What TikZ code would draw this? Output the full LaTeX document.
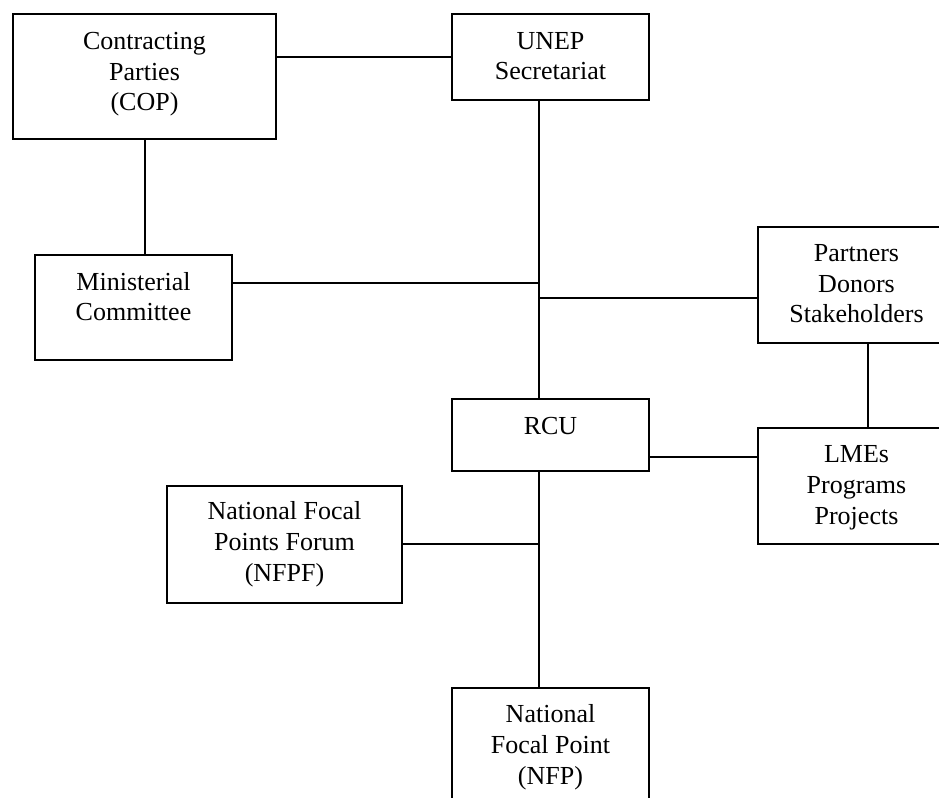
\documentclass[tikz,border=0pt]{standalone}
\usepackage{fontspec}
\setmainfont{Liberation Serif}
\begin{document}
\begin{tikzpicture}[x=0.75pt,y=-0.75pt,
  box/.style={draw,line width=1.5pt,rectangle,inner sep=0pt},
  lbl/.style={anchor=base,align=center,inner sep=0pt,font=\fontsize{19.5}{22.9}\selectfont},
  conn/.style={line width=1.5pt}]
\useasboundingbox (0,0) rectangle (939,798);
\begin{scope}
\clip (0,0) rectangle (939,798);
% boxes
\node[box,minimum width=263*0.75pt,minimum height=125*0.75pt] (cp) at (144.5,76.5) {};
\node[box,minimum width=197*0.75pt,minimum height=86*0.75pt] (unep) at (550.5,57) {};
\node[box,minimum width=197*0.75pt,minimum height=105*0.75pt] (min) at (133.5,307.5) {};
\node[box,minimum width=197*0.75pt,minimum height=116*0.75pt] (part) at (856.5,285) {};
\node[box,minimum width=197*0.75pt,minimum height=72*0.75pt] (rcu) at (550.5,435) {};
\node[box,minimum width=197*0.75pt,minimum height=116*0.75pt] (lme) at (856.5,486) {};
\node[box,minimum width=235*0.75pt,minimum height=117*0.75pt] (nfpf) at (284.5,544) {};
\node[box,minimum width=197*0.75pt,minimum height=122*0.75pt] (nfp) at (550.5,749) {};
% labels (base = last line baseline)
\node[lbl] (cpT) at (144.5,111) {Contracting\\Parties\\(COP)};
\node[lbl] (unepT) at (550.5,80) {UNEP\\Secretariat};
\node[lbl] (minT) at (133.5,321) {Ministerial\\Committee};
\node[lbl] (partT) at (856.5,323) {Partners\\Donors\\Stakeholders};
\node[lbl] (rcuT) at (550.5,435) {RCU};
\node[lbl] (lmeT) at (856.5,524) {LMEs\\Programs\\Projects};
\node[lbl] (nfpfT) at (284.5,581) {National Focal\\Points Forum\\(NFPF)};
\node[lbl] (nfpT) at (550.5,784) {National\\Focal Point\\(NFP)};
% junctions on the spine
\coordinate (s0) at (539,100);
\coordinate (j1) at (539,283);
\coordinate (j2) at (539,298);
\coordinate (pc) at (868,343);
\coordinate (cpc) at (145,139);
% connectors
\draw[conn] (unep.west) -- (unep.west -| cp.east);
\draw[conn] (cpc) -- (cpc |- min.north);
\draw[conn] (s0) -- (s0 |- rcu.north);
\draw[conn] (j1 -| min.east) -- (j1);
\draw[conn] (j2) -- (j2 -| part.west);
\draw[conn] (pc) -- (pc |- lme.north);
\draw[conn] (rcu.east |- 0,457) -- (lme.west |- 0,457);
\draw[conn] (s0 |- rcu.south) -- (s0 |- nfp.north);
\draw[conn] (nfpf.east) -- (nfpf.east -| s0);
\end{scope}
\end{tikzpicture}
\end{document}
